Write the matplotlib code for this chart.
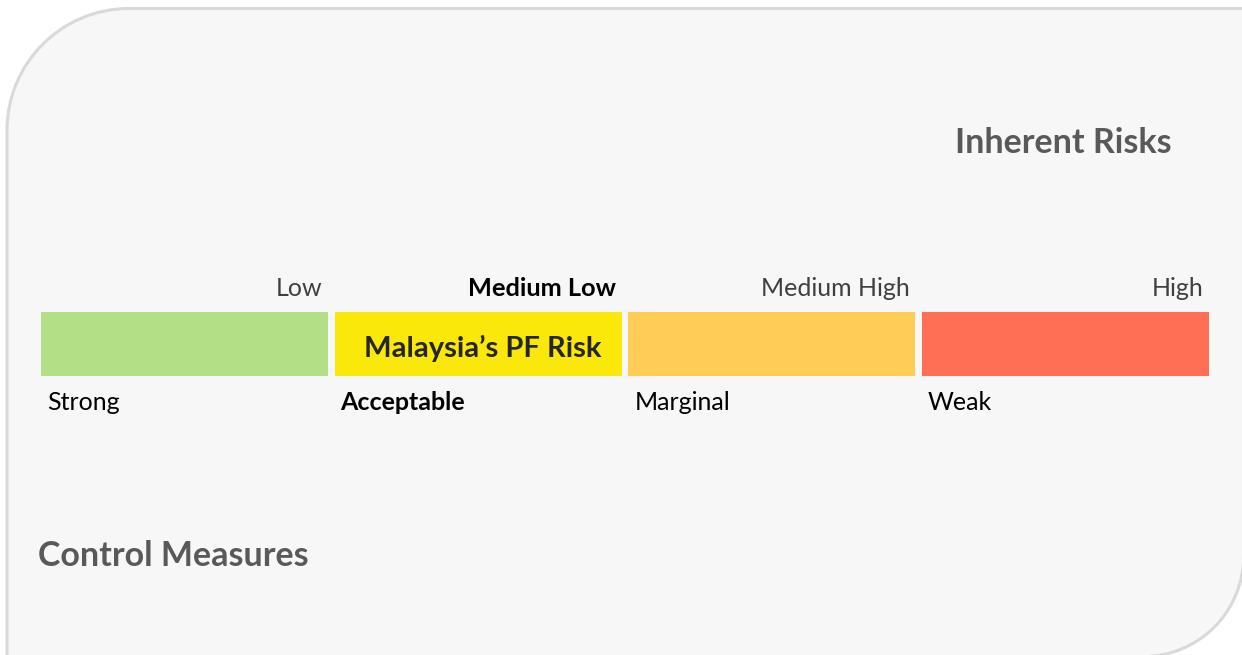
import matplotlib
matplotlib.use("Agg")
import matplotlib.pyplot as plt
from matplotlib.path import Path
from matplotlib.patches import PathPatch
import matplotlib.transforms as mtransforms

# ---- data ----
risk_levels = ["Low", "Medium Low", "Medium High", "High"]
control_levels = ["Strong", "Acceptable", "Marginal", "Weak"]
segment_values = [1, 1, 1, 1]
segment_colors = ["#B3DF86", "#FAE80B", "#FFCD55", "#FF6F55"]
highlight_index = 1
highlight_label = "Malaysia\u2019s PF Risk"
top_title = "Inherent Risks"
bottom_title = "Control Measures"

W, H = 1242, 655
FONT = "Lato"
plt.rcParams['font.family'] = [FONT, 'DejaVu Sans']

fig = plt.figure(figsize=(W / 100, H / 100), dpi=100)
fig.patch.set_facecolor("white")

# background panel in pixel coordinates
bg = fig.add_axes([0, 0, 1, 1])
bg.set_xlim(0, W)
bg.set_ylim(H, 0)
bg.axis("off")

k = 0.5523
L, T = 7, 8.5
right, bottom = W + 1.5, H + 1.5
r1 = 122   # top-left radius
r2 = 100   # bottom-right radius
verts = [
    (L, bottom + 30),
    (L, T + r1),
    (L, T + r1 - k * r1), (L + r1 - k * r1, T), (L + r1, T),
    (right + 30, T),
    (right, T),
    (right, bottom - r2),
    (right, bottom - r2 + k * r2), (right - r2 + k * r2, bottom), (right - r2, bottom),
    (L, bottom + 30),
    (L, bottom + 30),
]
codes = [Path.MOVETO, Path.LINETO, Path.CURVE4, Path.CURVE4, Path.CURVE4,
         Path.LINETO, Path.LINETO, Path.LINETO,
         Path.CURVE4, Path.CURVE4, Path.CURVE4,
         Path.LINETO, Path.CLOSEPOLY]
bg.add_patch(PathPatch(Path(verts, codes), facecolor="#F7F7F7",
                       edgecolor="#D9D9D9", lw=2.2))

# titles
bg.text(1172, 143, top_title, ha="right", va="center", fontsize=24.5,
        fontweight="bold", color="#595959")
bg.text(38, 556, bottom_title, ha="left", va="center", fontsize=24.5,
        fontweight="bold", color="#595959")

# ---- bar strip ----
pitch = (1065.5 - 184.5) / 3.0
bw = 0.977
x0 = 184.5 - pitch / 2
ax = fig.add_axes([x0 / W, 1 - 376 / H, 4 * pitch / W, 64 / H])
ax.set_xlim(-0.5, 3.5)
ax.set_ylim(0, 1)
ax.axis("off")
idx = list(range(len(risk_levels)))
ax.bar(idx, segment_values, width=bw, bottom=0, color=segment_colors,
       align="center", linewidth=0)

trans_top = mtransforms.blended_transform_factory(ax.transData, bg.transData)
for i, lab in enumerate(risk_levels):
    bold = (i == highlight_index)
    ax.text(i + bw / 2 - 0.019, 288, lab, transform=trans_top, ha="right",
            va="center", fontsize=18 if not bold else 18.3,
            fontweight="bold" if bold else "normal",
            color="#000000" if bold else "#404040")
for i, lab in enumerate(control_levels):
    bold = (i == highlight_index)
    ax.text(i - bw / 2 + 0.02, 403, lab, transform=trans_top, ha="left",
            va="center", fontsize=18,
            fontweight="bold" if bold else "normal",
            color="#000000")
ax.text(highlight_index + 0.017, 348, highlight_label, transform=trans_top,
        ha="center", va="center", fontsize=21, fontweight="bold",
        color="#262626")

fig.savefig("out.png", dpi=100, facecolor="white")
